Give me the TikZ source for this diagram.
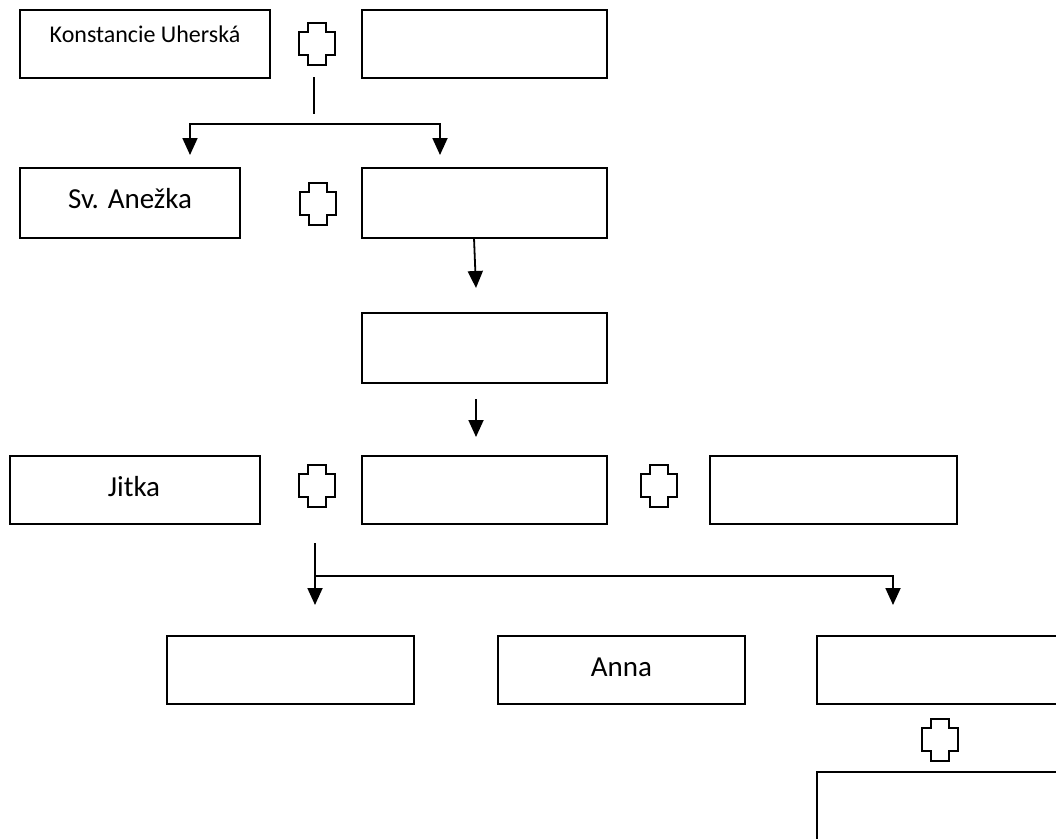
\documentclass[tikz,border=0pt]{standalone}
\usepackage{fontspec}
\setmainfont{Carlito}
\usetikzlibrary{arrows.meta}
\begin{document}
\begin{tikzpicture}[x=1pt,y=-1pt,
  box/.style={draw,line width=2pt,rectangle,inner sep=0pt},
  lbl/.style={inner sep=0pt,font=\fontsize{29}{34}\selectfont},
  smalllbl/.style={inner sep=0pt,font=\fontsize{24}{28}\selectfont},
  conn/.style={line width=1.8pt},
  arr/.style={conn,-{Triangle[width=15pt,length=17pt]}},
  pics/plus/.style={code={\draw[line width=2pt,line join=miter]
     (-9,-21) -- (9,-21) -- (9,-12) -- (18,-12) -- (18,11) -- (9,11) -- (9,21)
     -- (-9,21) -- (-9,11) -- (-18,11) -- (-18,-12) -- (-9,-12) -- cycle;}}]
\useasboundingbox (0,0) rectangle (1056,838);

% row 1
\node[box,minimum width=250pt,minimum height=68pt] (b1) at (145,44) {};
\node[smalllbl] (t1) at (145,34) {Konstancie Uherská};
\pic (c1) at (316.5,44) {plus};
\node[box,minimum width=245pt,minimum height=68pt] (b2) at (484.5,44) {};

% row 2
\node[box,minimum width=220pt,minimum height=70pt] (b3) at (130,203) {};
\node[lbl] (t3) at (130,199) {Sv. Anežka};
\pic (c2) at (317.5,204) {plus};
\node[box,minimum width=245pt,minimum height=70pt] (b4) at (484.5,203) {};

% row 3
\node[box,minimum width=245pt,minimum height=70pt] (b5) at (484.5,348) {};

% row 4
\node[box,minimum width=250pt,minimum height=68pt] (b6) at (135,490) {};
\node[lbl] (t6) at (134,487) {Jitka};
\pic (c3) at (316.5,486) {plus};
\node[box,minimum width=245pt,minimum height=68pt] (b7) at (484.5,490) {};
\pic (c4) at (659,486) {plus};
\node[box,minimum width=247pt,minimum height=68pt] (b8) at (833.5,490) {};

% row 5
\node[box,minimum width=247pt,minimum height=68pt] (b9) at (290.5,670) {};
\node[box,minimum width=247pt,minimum height=68pt] (b10) at (621.5,670) {};
\node[lbl] (t10) at (621.5,667) {Anna};
\node[box,minimum width=253pt,minimum height=68pt] (b11) at (943.5,670) {};
\pic (c5) at (939.5,740) {plus};
\node[box,minimum width=253pt,minimum height=90pt] (b12) at (943.5,817) {};

% connectors
\coordinate (s1) at (314,77);
\coordinate (s1e) at (314,114);
\draw[conn] (s1) -- (s1e);
\coordinate (h1) at (314,124);
\coordinate (a1) at (190,155);
\coordinate (a2) at (440,155);
\draw[arr] (h1) -| (a1);
\draw[arr] (h1) -| (a2);

\coordinate (s2) at (474,238);
\coordinate (a3) at (476,288);
\draw[arr] (s2) -- (a3);

\coordinate (s3) at (476,399);
\coordinate (a4) at (476,437);
\draw[arr] (s3) -- (a4);

\coordinate (s4) at (315,543);
\coordinate (h4) at (315,576);
\coordinate (a5) at (315,605);
\coordinate (a6) at (893,605);
\draw[arr] (s4) -- (a5);
\draw[arr] (h4) -| (a6);
\end{tikzpicture}
\end{document}
